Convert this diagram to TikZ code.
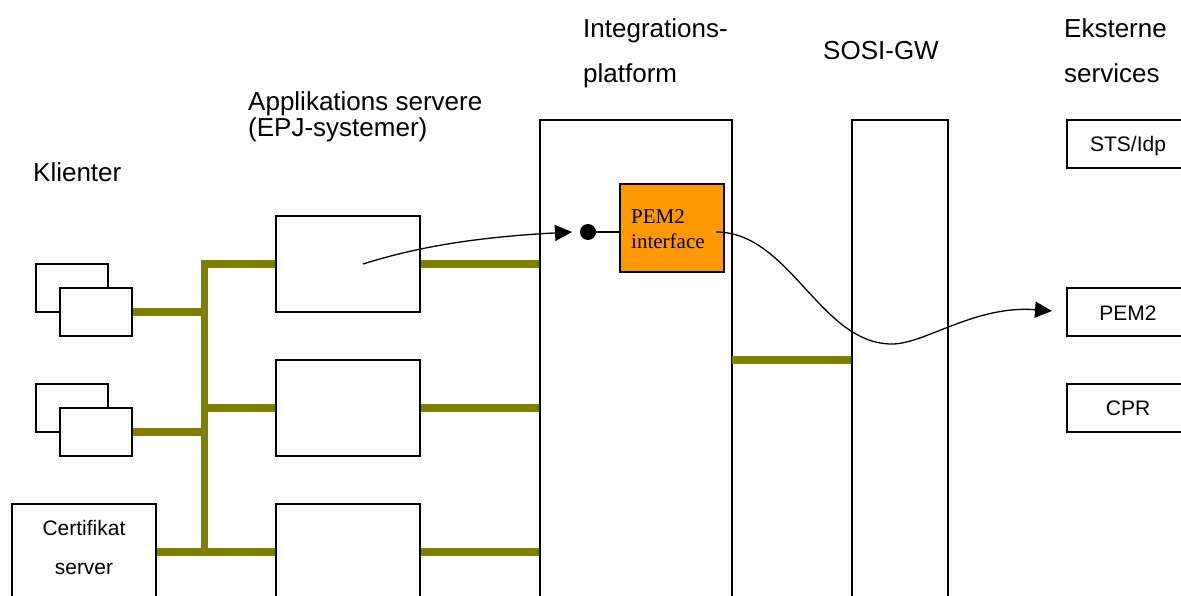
\documentclass[tikz,border=0pt]{standalone}
\usepackage{fontspec}
\setmainfont{Liberation Sans}
\newfontfamily\timesfont{Liberation Serif}
\usetikzlibrary{arrows.meta}
\definecolor{busolive}{HTML}{808000}
\definecolor{pemorange}{HTML}{FF9900}
\tikzset{
  box/.style={draw=black, line width=1.3pt, fill=white, rectangle, inner sep=0pt},
  bus/.style={draw=busolive, line width=7.5pt},
  title/.style={anchor=base west, inner sep=0pt, font=\fontsize{26}{30}\selectfont},
  small/.style={inner sep=0pt, font=\fontsize{21}{24}\selectfont},
  flow/.style={draw=black, line width=1.3pt},
  iftext/.style={anchor=base west, inner sep=0pt, font=\timesfont\fontsize{21}{24}\selectfont},
}
\begin{document}
\begin{tikzpicture}[x=1pt, y=-1pt]
\useasboundingbox (0,0) rectangle (1181,596);
\clip (0,0) rectangle (1181,596);

% column titles
\node[title] (tKlient) at (33,182) {Klienter};
\node[title] (tApp1) at (248,111) {Applikations servere};
\node[title] (tApp2) at (248,137) {(EPJ-systemer)};
\node[title] (tInt1) at (583,38) {Integrations-};
\node[title] (tInt2) at (583,83) {platform};
\node[title] (tSosi) at (823,60) {SOSI-GW};
\node[title] (tExt1) at (1064,38) {Eksterne};
\node[title] (tExt2) at (1064,83) {services};

% clients (stacked pairs)
\node[box, minimum width=72pt, minimum height=48pt] (c1b) at (72,288) {};
\node[box, minimum width=72pt, minimum height=48pt] (c1f) at (96,312) {};
\node[box, minimum width=72pt, minimum height=48pt] (c2b) at (72,408) {};
\node[box, minimum width=72pt, minimum height=48pt] (c2f) at (96,432) {};

% certificate server
\node[box, minimum width=144pt, minimum height=116pt] (cert) at (84,562) {};
\node[small, anchor=base] (certT1) at (84,535) {Certifikat};
\node[small, anchor=base] (certT2) at (84,574) {server};

% application servers
\node[box, minimum width=144pt, minimum height=96pt] (app1) at (348,264) {};
\node[box, minimum width=144pt, minimum height=96pt] (app2) at (348,408) {};
\node[box, minimum width=144pt, minimum height=116pt] (app3) at (348,562) {};

% integration platform and SOSI gateway
\node[box, minimum width=192pt, minimum height=500pt] (plat) at (636,370) {};
\node[box, minimum width=96pt, minimum height=500pt] (sosi) at (900,370) {};

% external services
\node[box, minimum width=128pt, minimum height=48pt] (sts) at (1131,144) {};
\node[small, anchor=base] (stsT) at (1128,152) {STS/Idp};
\node[box, minimum width=128pt, minimum height=48pt] (pem) at (1131,312) {};
\node[small, anchor=base] (pemT) at (1128,320) {PEM2};
\node[box, minimum width=128pt, minimum height=48pt] (cpr) at (1131,408) {};
\node[small, anchor=base] (cprT) at (1128,415) {CPR};

% network bus
\coordinate (busT) at (204.5,264);
\coordinate (busB) at (204.5,552);
\draw[bus, line cap=rect] (busT) -- (busB);
\draw[bus] (busT) -- (app1.west);
\draw[bus] (c1f.east) -- (c1f.east -| busT);
\draw[bus] (c2f.east) -- (c2f.east -| busT);
\draw[bus] (busT |- app2.west) -- (app2.west);
\draw[bus] (cert.east |- busB) -- (busB) -- (app3.west |- busB);
\draw[bus] (app1.east) -- (app1.east -| plat.west);
\draw[bus] (app2.east) -- (app2.east -| plat.west);
\draw[bus] (app3.east |- busB) -- (busB -| plat.west);
\coordinate (gwlink) at (732,360);
\draw[bus] (gwlink) -- (gwlink -| sosi.west);

% PEM2 interface component
\node[draw=black, line width=1.3pt, fill=pemorange, minimum width=104pt, minimum height=88pt, inner sep=0pt] (pemif) at (672,228) {};
\node[iftext] (pemifT1) at (631,224) {PEM2};
\node[iftext] (pemifT2) at (631,248) {interface};
\node[circle, fill=black, minimum size=16pt, inner sep=0pt] (port) at (588,232) {};
\draw[flow] (port) -- (port -| pemif.west);

% message flows
\coordinate (reqStart) at (363,264);
\coordinate (reqEnd) at (572,232);
\draw[flow, -{Triangle[length=17pt,width=16pt]}] (reqStart) .. controls (420,246) and (480,237) .. (reqEnd);
\coordinate (fwdStart) at (716,232);
\coordinate (fwdMid) at (892,344);
\coordinate (fwdEnd) at (1052,311);
\draw[flow] (fwdStart) .. controls (790,232) and (820,344) .. (fwdMid);
\draw[flow, -{Triangle[length=17pt,width=16pt]}] (fwdMid) .. controls (925,344) and (975,305) .. (fwdEnd);
\end{tikzpicture}
\end{document}
